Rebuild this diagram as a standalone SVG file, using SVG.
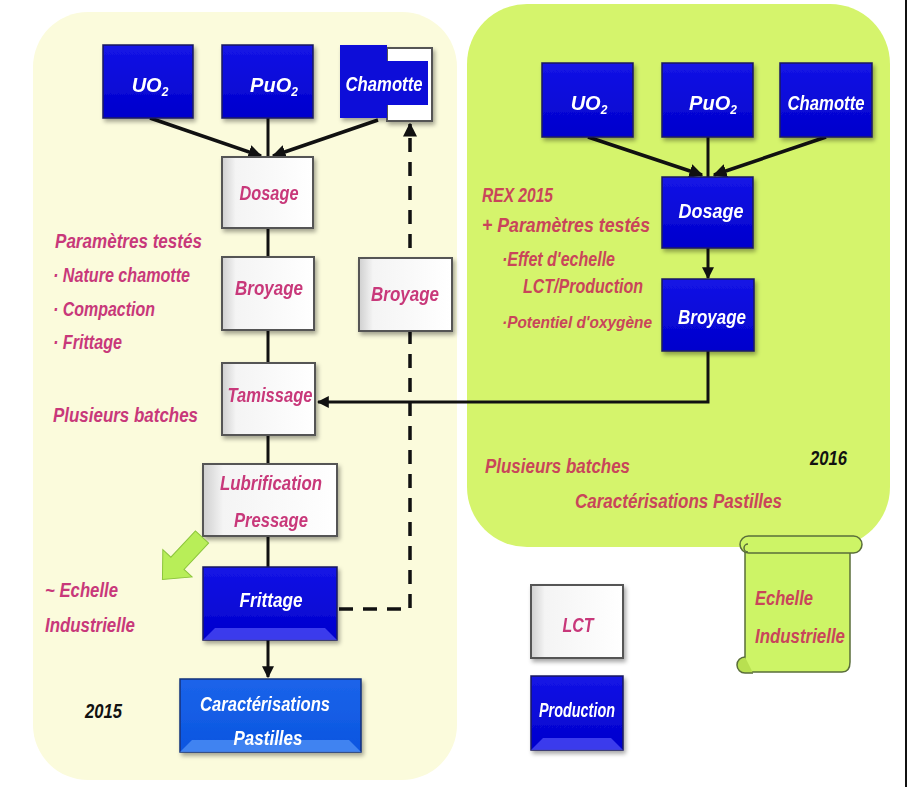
<svg xmlns="http://www.w3.org/2000/svg" width="909" height="787" viewBox="0 0 909 787">
<defs>
<style>
.t{font-family:"Liberation Sans",Arial,sans-serif;font-weight:bold;font-style:italic;font-size:20px}
.pk{fill:#c8387a}
.rd{fill:#c9455a}
.wt{fill:#ffffff}
.bk{fill:#111111}
.wbox{fill:url(#gw);stroke:#555;stroke-width:2}
.bbox{fill:url(#gb);stroke:#1a1a60;stroke-width:1.5}
.bev{fill:#4a4af4;opacity:0.8}
.ln{stroke:#111;stroke-width:3;fill:none}
.lnd{stroke:#111;stroke-width:3.5;fill:none}
</style>
<linearGradient id="gw" x1="0" y1="0" x2="1" y2="0">
<stop offset="0" stop-color="#cfcfcf"/><stop offset="0.15" stop-color="#f4f4f4"/><stop offset="1" stop-color="#ffffff"/>
</linearGradient>
<linearGradient id="gb" x1="0" y1="0" x2="0" y2="1">
<stop offset="0" stop-color="#1414e6"/><stop offset="1" stop-color="#0000cc"/>
</linearGradient>
<linearGradient id="gc" x1="0" y1="0" x2="0" y2="1">
<stop offset="0" stop-color="#1c64ea"/><stop offset="1" stop-color="#0a55e0"/>
</linearGradient>
<filter id="sh" x="-10%" y="-10%" width="130%" height="130%">
<feDropShadow dx="2" dy="3" stdDeviation="2" flood-color="#000" flood-opacity="0.35"/>
</filter>
<marker id="ah" viewBox="0 0 10 10" refX="9" refY="5" markerWidth="4" markerHeight="4" orient="auto-start-reverse">
<path d="M0,0 L10,5 L0,10 z" fill="#111"/>
</marker>
</defs>
<rect width="909" height="787" fill="#fff"/>
<!-- panels -->
<rect x="33" y="12" width="424" height="768" rx="55" fill="#fbfbdc"/>
<rect x="467" y="4" width="423" height="543" rx="60" fill="#d5f46c"/>
<rect x="905" y="0" width="2" height="787" fill="#111"/>

<!-- connectors -->
<g id="connectors">
<line class="lnd" x1="150" y1="118" x2="261" y2="156" marker-end="url(#ah)"/>
<line class="ln" x1="268" y1="118" x2="268" y2="157"/>
<line class="lnd" x1="378" y1="120" x2="273" y2="156" marker-end="url(#ah)"/>
<line class="ln" x1="268" y1="228" x2="268" y2="257"/>
<line class="ln" x1="268" y1="330" x2="268" y2="363"/>
<line class="ln" x1="268" y1="435" x2="268" y2="464"/>
<line class="ln" x1="268" y1="536" x2="268" y2="567"/>
<line class="ln" x1="268" y1="640" x2="268" y2="677" marker-end="url(#ah)"/>
<path class="lnd" d="M339,609 H410 V124" stroke-dasharray="14 10" marker-end="url(#ah)"/>
<path class="ln" d="M708,351 V402 H318" marker-end="url(#ah)"/>
<line class="lnd" x1="588" y1="137" x2="702" y2="175" marker-end="url(#ah)"/>
<line class="ln" x1="708" y1="137" x2="708" y2="177"/>
<line class="lnd" x1="826" y1="137" x2="714" y2="175" marker-end="url(#ah)"/>
<line class="ln" x1="708" y1="248" x2="708" y2="278" marker-end="url(#ah)"/>
</g>

<!-- left nodes -->
<g id="uo2-left" filter="url(#sh)">
<rect class="bbox" x="103" y="45" width="90" height="73"/>
<text class="t wt" x="150" y="92" text-anchor="middle" font-size="19">UO<tspan font-size="12" dy="4">2</tspan></text>
</g>
<g id="puo2-left" filter="url(#sh)">
<rect class="bbox" x="222" y="45" width="91" height="73"/>
<text class="t wt" x="274" y="92" text-anchor="middle" font-size="19">PuO<tspan font-size="12" dy="4">2</tspan></text>
</g>
<g id="chamotte-left" filter="url(#sh)">
<rect x="387" y="48" width="45" height="73" fill="#fff" stroke="#555" stroke-width="2"/>
<rect x="340" y="45" width="47" height="73" fill="#0a0ad8"/>
<rect x="386" y="61" width="42" height="44" fill="#0a0ad8"/>
<text class="t wt" x="384" y="91" text-anchor="middle" textLength="77" lengthAdjust="spacingAndGlyphs">Chamotte</text>
</g>
<g id="dosage-left" filter="url(#sh)">
<rect class="wbox" x="222" y="157" width="91" height="71"/>
<text class="t pk" x="269" y="200" text-anchor="middle" textLength="59" lengthAdjust="spacingAndGlyphs">Dosage</text>
</g>
<g id="broyage-left" filter="url(#sh)">
<rect class="wbox" x="222" y="257" width="92" height="73"/>
<text class="t pk" x="269" y="295" text-anchor="middle" textLength="68" lengthAdjust="spacingAndGlyphs">Broyage</text>
</g>
<g id="broyage-recycle" filter="url(#sh)">
<rect class="wbox" x="359" y="258" width="93" height="73"/>
<text class="t pk" x="405" y="301" text-anchor="middle" textLength="68" lengthAdjust="spacingAndGlyphs">Broyage</text>
</g>
<g id="tamissage" filter="url(#sh)">
<rect class="wbox" x="222" y="363" width="93" height="72"/>
<text class="t pk" x="270" y="402" text-anchor="middle" textLength="85" lengthAdjust="spacingAndGlyphs">Tamissage</text>
</g>
<g id="lubrification" filter="url(#sh)">
<rect class="wbox" x="203" y="464" width="134" height="72"/>
<text class="t pk" x="271" y="490" text-anchor="middle" textLength="102" lengthAdjust="spacingAndGlyphs">Lubrification</text>
<text class="t pk" x="271" y="527" text-anchor="middle" textLength="74" lengthAdjust="spacingAndGlyphs">Pressage</text>
</g>
<g id="frittage" filter="url(#sh)">
<rect class="bbox" x="203" y="567" width="134" height="73"/>
<polygon class="bev" points="203,640 337,640 325,628 215,628"/>
<text class="t wt" x="271" y="607" text-anchor="middle" textLength="63" lengthAdjust="spacingAndGlyphs">Frittage</text>
</g>
<g id="caracterisations" filter="url(#sh)">
<rect x="180" y="679" width="181" height="73" fill="url(#gc)" stroke="#16307a" stroke-width="1.5"/>
<polygon points="180,752 361,752 349,740 192,740" fill="#4f8ff5" opacity="0.8"/>
<text class="t wt" x="265" y="711" text-anchor="middle" textLength="130" lengthAdjust="spacingAndGlyphs">Caractérisations</text>
<text class="t wt" x="268" y="745" text-anchor="middle" textLength="69" lengthAdjust="spacingAndGlyphs">Pastilles</text>
</g>

<!-- green arrow -->
<g id="arrow-echelle">
<polygon transform="translate(202,537) rotate(133)" points="0,-9 36,-9 36,-20 58,0 36,20 36,9 0,9" fill="#b8ee58" stroke="#8cc53c" stroke-width="1"/>
</g>

<!-- left texts -->
<g id="left-texts" class="t pk">
<text x="55" y="248" textLength="147" lengthAdjust="spacingAndGlyphs">Paramètres  testés</text>
<text x="53" y="282" textLength="137" lengthAdjust="spacingAndGlyphs">· Nature chamotte</text>
<text x="53" y="316" textLength="102" lengthAdjust="spacingAndGlyphs">· Compaction</text>
<text x="53" y="349" textLength="69" lengthAdjust="spacingAndGlyphs">· Frittage</text>
<text x="53" y="422" textLength="145" lengthAdjust="spacingAndGlyphs">Plusieurs batches</text>
<text x="45" y="597" textLength="73" lengthAdjust="spacingAndGlyphs">~ Echelle</text>
<text x="45" y="632" textLength="90" lengthAdjust="spacingAndGlyphs">Industrielle</text>
</g>
<text class="t bk" x="85" y="718" textLength="37" lengthAdjust="spacingAndGlyphs">2015</text>

<!-- right nodes -->
<g id="uo2-right" filter="url(#sh)">
<rect class="bbox" x="542" y="63" width="91" height="74"/>
<text class="t wt" x="589" y="110" text-anchor="middle" font-size="19">UO<tspan font-size="12" dy="4">2</tspan></text>
</g>
<g id="puo2-right" filter="url(#sh)">
<rect class="bbox" x="662" y="63" width="91" height="74"/>
<text class="t wt" x="713" y="110" text-anchor="middle" font-size="19">PuO<tspan font-size="12" dy="4">2</tspan></text>
</g>
<g id="chamotte-right" filter="url(#sh)">
<rect class="bbox" x="780" y="63" width="92" height="74"/>
<text class="t wt" x="826" y="110" text-anchor="middle" textLength="77" lengthAdjust="spacingAndGlyphs">Chamotte</text>
</g>
<g id="dosage-right" filter="url(#sh)">
<rect class="bbox" x="662" y="177" width="91" height="71"/>
<text class="t wt" x="711" y="218" text-anchor="middle" textLength="65" lengthAdjust="spacingAndGlyphs">Dosage</text>
</g>
<g id="broyage-right" filter="url(#sh)">
<rect class="bbox" x="662" y="279" width="92" height="72"/>
<text class="t wt" x="712" y="324" text-anchor="middle" font-size="19" textLength="68" lengthAdjust="spacingAndGlyphs">Broyage</text>
</g>

<!-- right texts -->
<g id="right-texts" class="t rd">
<text x="482" y="202" textLength="71" lengthAdjust="spacingAndGlyphs">REX 2015</text>
<text x="482" y="232" textLength="168" lengthAdjust="spacingAndGlyphs">+ Paramètres testés</text>
<text x="502" y="266" textLength="113" lengthAdjust="spacingAndGlyphs">·Effet d'echelle</text>
<text x="523" y="293" textLength="120" lengthAdjust="spacingAndGlyphs">LCT/Production</text>
<text x="502" y="328" font-size="17" textLength="150" lengthAdjust="spacingAndGlyphs">·Potentiel d'oxygène</text>
<text x="485" y="473" textLength="145" lengthAdjust="spacingAndGlyphs">Plusieurs batches</text>
<text x="575" y="508" textLength="207" lengthAdjust="spacingAndGlyphs">Caractérisations  Pastilles</text>
</g>
<text class="t bk" x="810" y="465" textLength="37" lengthAdjust="spacingAndGlyphs">2016</text>

<!-- legend -->
<g id="legend-lct" filter="url(#sh)">
<rect class="wbox" x="531" y="585" width="92" height="73"/>
<text class="t pk" x="578" y="632" text-anchor="middle" textLength="31" lengthAdjust="spacingAndGlyphs">LCT</text>
</g>
<g id="legend-production" filter="url(#sh)">
<rect class="bbox" x="531" y="676" width="92" height="74"/>
<polygon class="bev" points="531,750 623,750 611,738 543,738"/>
<text class="t wt" x="577" y="717" text-anchor="middle" font-size="18" textLength="76" lengthAdjust="spacingAndGlyphs">Production</text>
</g>
<g id="legend-scroll">
<path d="M745,546 H850 V662 Q850,672 842,672 H745 Z" fill="#cdf466" stroke="#5a6e3a" stroke-width="1.5"/>
<rect x="740" y="536" width="122" height="17" rx="8.5" fill="#cdf466" stroke="#5a6e3a" stroke-width="1.5"/>
<path d="M748,544 a4,4 0 1 0 0,8" fill="none" stroke="#5a6e3a" stroke-width="1.5"/>
<path d="M745,657 a8,8 0 1 0 0,16 h8" fill="#b8e050" stroke="#5a6e3a" stroke-width="1.5"/>
<text class="t rd" x="755" y="605" textLength="58" lengthAdjust="spacingAndGlyphs">Echelle</text>
<text class="t rd" x="755" y="643" textLength="90" lengthAdjust="spacingAndGlyphs">Industrielle</text>
</g>
</svg>
